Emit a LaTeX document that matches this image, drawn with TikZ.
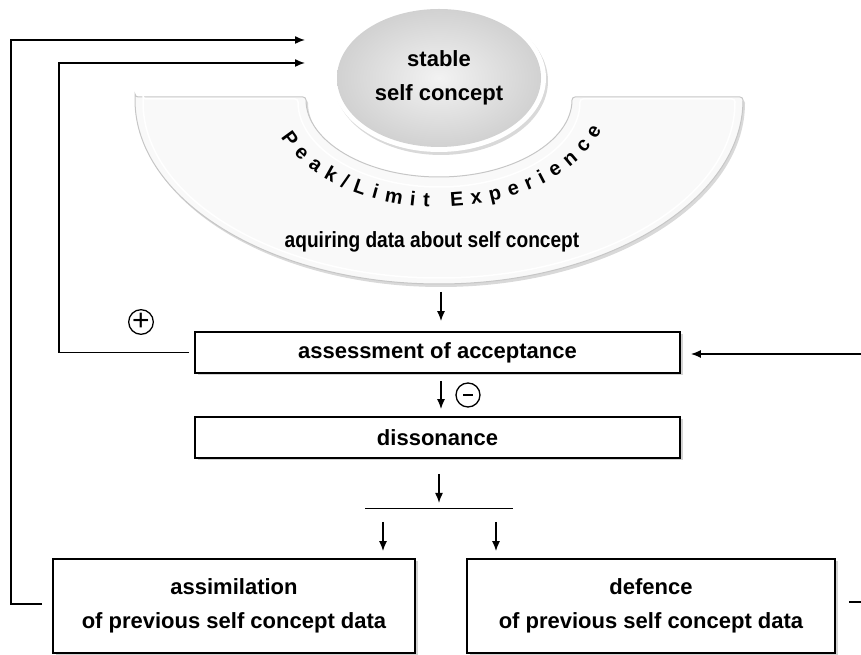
\documentclass[tikz,border=0pt]{standalone}
\usepackage{fontspec}
\setmainfont{Liberation Sans}
\usetikzlibrary{arrows.meta,shapes.geometric,shadows,decorations.text}

\begin{document}
\begin{tikzpicture}[x=1pt, y=1pt,
    every node/.style={font=\bfseries\fontsize{22}{34}\selectfont},
    box/.style={draw, line width=1.7pt, fill=white, inner sep=0pt, align=center,
      drop shadow={shadow xshift=2.5pt, shadow yshift=-2.5pt, opacity=0.35}},
    sign/.style={draw, circle, line width=1.3pt, minimum size=24pt, inner sep=0pt,
      font=\fontsize{30}{30}\selectfont},
    arr/.style={-{Latex[length=10pt,width=8pt]}, line width=1.5pt}]
  \useasboundingbox (0,0) rectangle (861,655);

  % half ring below the self concept
  \draw[rounded corners=3pt, draw=gray!45, line width=1pt, fill=gray!5,
    drop shadow={shadow xshift=2pt, shadow yshift=-3pt, opacity=0.3}]
    (135,558) -- (306,558) arc[start angle=180, end angle=360, x radius=133, y radius=80]
    -- (743,558) arc[start angle=0, end angle=-180, x radius=304, y radius=187] -- cycle;
  \draw[white, line width=1.5pt, rounded corners=3pt]
    (143,556) -- (298,556) arc[start angle=180, end angle=360, x radius=141, y radius=88]
    -- (735,556) arc[start angle=0, end angle=-180, x radius=296, y radius=179] -- cycle;

  % self concept
  \node[ellipse, minimum width=214, minimum height=148, fill=white,
    drop shadow={shadow xshift=2pt, shadow yshift=-3pt, opacity=0.3}] (rim) at (439,577) {};
  \node[ellipse, minimum width=204, minimum height=138, inner color=gray!10,
    outer color=gray!36, align=center] (stable) at (439,577) {stable\\self concept};

  \path[decorate, shift={(439,563)}, decoration={text along path, text align={fit to path},
      text={|\bfseries\fontsize{20}{20}\selectfont|Peak/Limit Experience}}]
    (203:172 and 115) arc[start angle=203, end angle=341, x radius=172, y radius=115];
  \node (aquire) at (432,413) {\scalebox{0.87}[1]{aquiring data about self concept}};

  % boxes
  \node[box, minimum width=485, minimum height=41] (assess) at (437.5,302.5) {assessment of acceptance};
  \node[box, minimum width=485, minimum height=41] (disson) at (437.5,217.5) {dissonance};
  \node[box, minimum width=362, minimum height=94] (assim) at (234,49) {assimilation\\of previous self concept data};
  \node[box, minimum width=368, minimum height=94] (defen) at (651,49) {defence\\of previous self concept data};

  \node[sign] (plus) at (141,333) {+};
  \node[sign] (minus) at (468,260) {\rule{10pt}{2.8pt}};

  \coordinate (bandbot) at (441,371);
  \coordinate (inA) at (305,615);
  \coordinate (inB) at (305,592);
  \coordinate (rin) at (861,301);
  \coordinate (rout) at (861,53);
  \coordinate (split) at (439,146);
  \coordinate (splitA) at (383,146);
  \coordinate (splitD) at (496,146);

  % connectors
  \draw[arr, shorten <=8pt, shorten >=10pt] (bandbot) -- (bandbot |- assess.north);
  \draw[arr, shorten <=7pt, shorten >=7pt] (assess.south -| bandbot) -- (disson.north -| bandbot);
  \draw[arr, shorten <=15pt, shorten >=6pt] (disson.south -| split) -- (split);
  \draw[line width=1pt] ([xshift=-74pt]split) -- ([xshift=74pt]split);
  \draw[arr, shorten <=13pt, shorten >=7pt] (splitA) -- (splitA |- assim.north);
  \draw[arr, shorten <=13pt, shorten >=7pt] (splitD) -- (splitD |- defen.north);

  % feedback loops
  \draw[arr, shorten <=10pt] ([yshift=2pt]assim.west) -- ++(-41,0) |- (inA);
  \draw[arr, shorten <=5pt] (assess.west) -- ++(-135,0) |- (inB);
  \draw[arr, shorten >=10pt] (rin) -- (assess.east |- rin);
  \draw[line width=1.5pt, shorten <=13pt] (defen.east |- rout) -- (rout);
\end{tikzpicture}
\end{document}
